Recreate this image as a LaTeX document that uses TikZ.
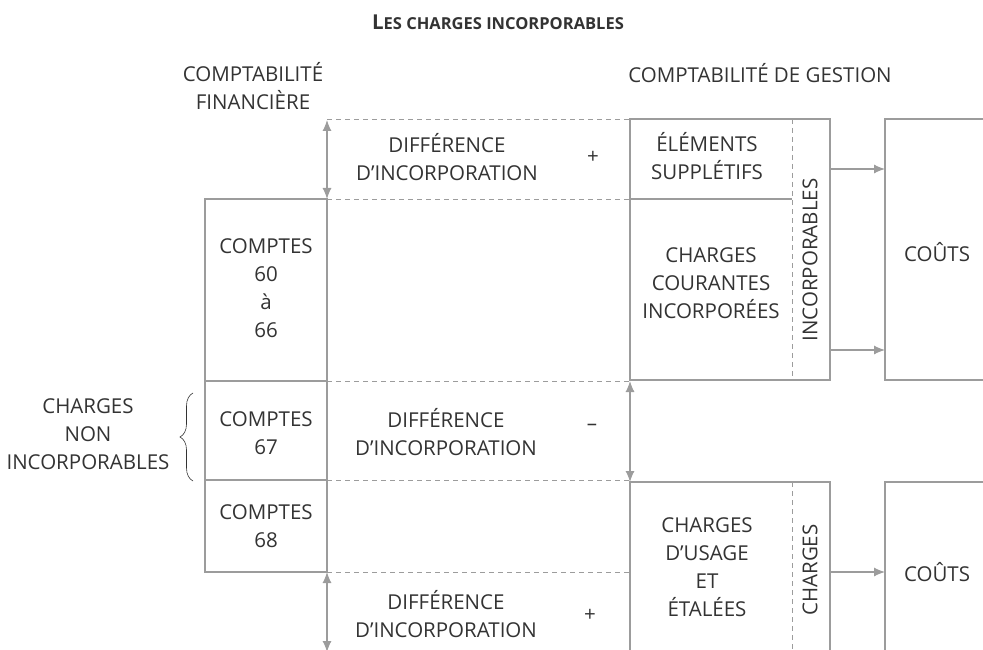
\documentclass[tikz,border=0pt]{standalone}
\usepackage{fontspec}
\setmainfont{Open Sans}
\usetikzlibrary{arrows.meta,decorations.pathreplacing,calc}
\definecolor{lncol}{HTML}{9C9C9C}
\definecolor{txcol}{HTML}{333333}
\begin{document}
\begin{tikzpicture}[x=1pt,y=-1pt,
  ln/.style={draw=lncol,line width=1.1pt},
  dl/.style={draw=lncol,line width=1pt,dash pattern=on 5pt off 4pt},
  arr/.style={ln,-{Latex[length=11pt,width=9pt]}},
  darr/.style={ln,{Latex[length=11pt,width=9pt]}-{Latex[length=11pt,width=9pt]}},
  txt/.style={text=txcol,font=\fontsize{20.5}{28}\selectfont,align=center,inner sep=0pt},
  box/.style={ln,anchor=north west,inner sep=0pt,outer sep=0pt}]
\useasboundingbox (0,0) rectangle (983,650);
\clip (0,0) rectangle (983,650);

% grid coordinates
\coordinate (fL1) at (205,199);
\coordinate (fR1) at (327,199);
\coordinate (fL2) at (205,381);
\coordinate (fR2) at (327,381);
\coordinate (fL3) at (205,480);
\coordinate (fR3) at (327,480);
\coordinate (fL4) at (205,572);
\coordinate (fR4) at (327,572);
\coordinate (fR0) at (327,120);
\coordinate (fRb) at (327,652);
\coordinate (gL0) at (630,120);
\coordinate (gL1) at (630,199);
\coordinate (gL2) at (630,381);
\coordinate (gL3) at (630,480);
\coordinate (gL4) at (630,572);
\coordinate (a1) at (0,169);
\coordinate (a2) at (0,350);
\coordinate (a3) at (0,572);

% financial accounts box
\draw[ln] (fR1) -- (fL1) -- (fL4) -- (fR4) -- cycle;
\draw[ln] (fL2) -- (fR2);
\draw[ln] (fL3) -- (fR3);

% dashed guide lines
\draw[dl] (fR0) -- (gL0);
\draw[dl] (fR1) -- (gL1);
\draw[dl] (fR2) -- (gL2);
\draw[dl] (fR3) -- (gL3);
\draw[dl] (fR4) -- (gL4);

% management boxes
\node[box,minimum width=200pt,minimum height=261pt] (incbox) at (630,119) {};
\draw[ln] (gL1) -- (792,199);
\draw[dl] (792,119) -- (792,380);
\node[box,minimum width=200pt,minimum height=200pt] (chbox) at (630,482) {};
\draw[dl] (792,482) -- (792,660);
\node[box,minimum width=150pt,minimum height=261pt] (cbox1) at (885,119) {};
\node[box,minimum width=150pt,minimum height=200pt] (cbox2) at (885,482) {};

% arrows
\draw[arr] (incbox.east |- a1) -- (cbox1.west |- a1);
\draw[arr] (incbox.east |- a2) -- (cbox1.west |- a2);
\draw[arr] (chbox.east |- a3) -- (cbox2.west |- a3);
\draw[darr] (fR0) -- (fR1);
\draw[darr] (gL2) -- (chbox.north west);
\draw[darr] (fR4) -- (fRb);

% brace
\draw[draw=txcol,line width=0.6pt,decorate,decoration={brace,amplitude=13pt}]
  (193,481) -- (193,393);

% texts
\node[txt] (title) at (498,22) {\bfseries L{\fontsize{16.5}{14}\selectfont ES CHARGES INCORPORABLES}};
\node[txt] (cf) at (253,86.5) {COMPTABILITÉ\\FINANCIÈRE};
\node[txt] (cg) at (760,73) {COMPTABILITÉ DE GESTION};
\node[txt] (d1) at (447,157.5) {DIFFÉRENCE\\D’INCORPORATION};
\node[txt] (p1) at (593,157) {+};
\node[txt] (elem) at (707,156.5) {ÉLÉMENTS\\SUPPLÉTIFS};
\node[txt] (ccour) at (711,283) {CHARGES\\COURANTES\\INCORPORÉES};
\node[txt,rotate=90] (incv) at (810,260) {INCORPORABLES};
\node[txt] (c1) at (937,252) {COÛTS};
\node[txt] (c60) at (266,288) {COMPTES\\60\\à\\66};
\node[txt] (c67) at (266,433) {COMPTES\\67};
\node[txt] (d2) at (446,432) {DIFFÉRENCE\\D’INCORPORATION};
\node[txt] (m2) at (592,427) {–};
\node[txt] (cni) at (88,434) {CHARGES\\NON\\INCORPORABLES};
\node[txt] (c68) at (266,526) {COMPTES\\68};
\node[txt] (d3) at (446,614) {DIFFÉRENCE\\D’INCORPORATION};
\node[txt] (p3) at (590,615) {+};
\node[txt] (cusage) at (707,567) {CHARGES\\D’USAGE\\ET\\ÉTALÉES};
\node[txt,rotate=90] (chv) at (810,570) {CHARGES};
\node[txt] (c2) at (937,572) {COÛTS};
\end{tikzpicture}
\end{document}
